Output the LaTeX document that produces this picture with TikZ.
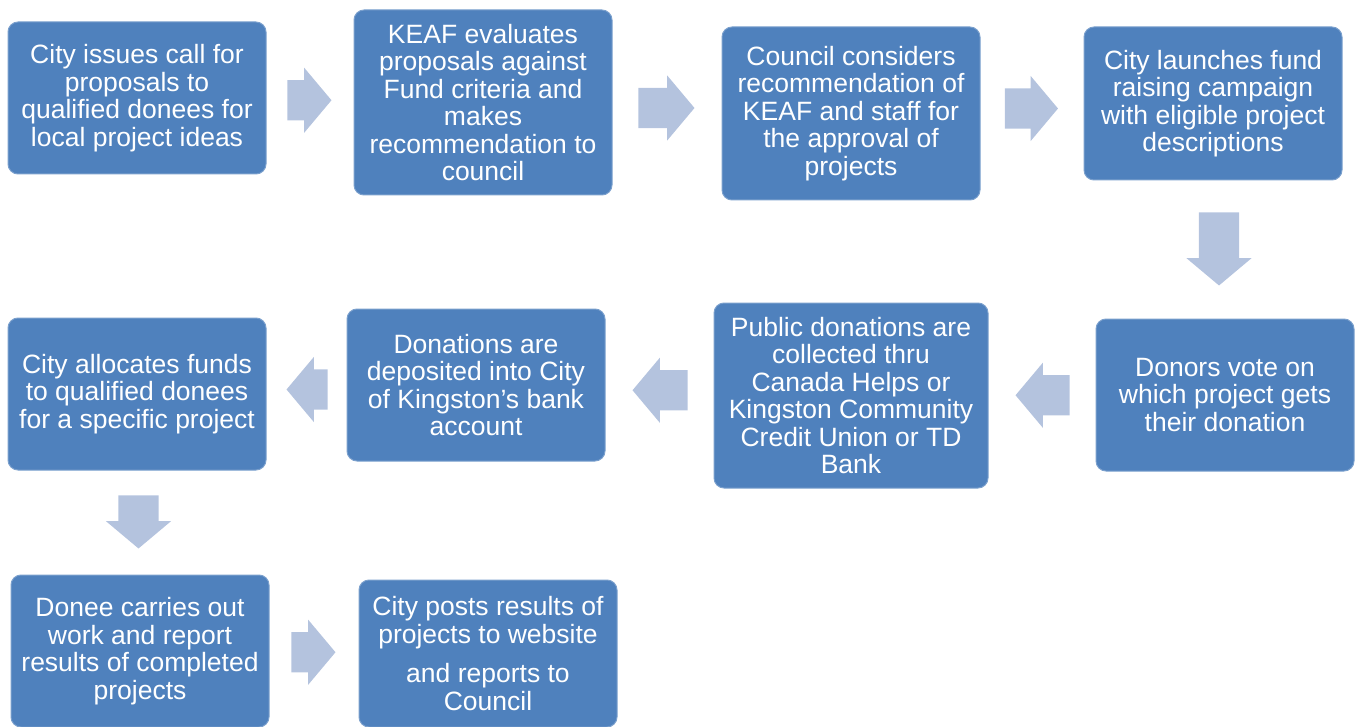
\documentclass[tikz,border=0pt]{standalone}
\usepackage{fontspec}
\setmainfont{Liberation Sans}
\usetikzlibrary{shapes.arrows,calc}
\definecolor{boxblue}{HTML}{4F81BD}
\definecolor{arrblue}{HTML}{B4C3DE}

\begin{document}
\begin{tikzpicture}[x=1pt,y=-1pt,
        stage/.style={rectangle,rounded corners=10pt,fill=boxblue,
            draw=boxblue!75!white,line width=1pt,text=white,align=center,
            minimum width=258pt,minimum height=152pt,inner sep=2pt,
            font=\fontsize{26.5}{27.5}\selectfont},
        flow/.style={single arrow,fill=arrblue,draw=none,
            single arrow head extend=12.5pt,single arrow tip angle=100,
            inner xsep=0pt,inner ysep=20pt,minimum height=#1},
        flow/.default=53pt,
        flowright/.style={flow=#1,xshift=-9pt},
        flowright/.default=53pt,
        flowleft/.style={flow=#1,shape border rotate=180,xshift=9pt},
        flowleft/.default=53pt,
        flowdown/.style={flow=#1,inner xsep=20pt,inner ysep=0pt,
            shape border rotate=270,yshift=9pt},
        flowdown/.default=53pt]
    \useasboundingbox (0,0) rectangle (1356,727);

    % top row
    \node[stage] (call) at (137,98) {City issues call for\\proposals to\\qualified donees for\\local project ideas};
    \node[stage,minimum height=185pt] (keaf) at (483,102.5) {KEAF evaluates\\proposals against\\Fund criteria and\\makes\\recommendation to\\council};
    \node[stage,minimum height=173pt] (council) at (851,113.5) {Council considers\\recommendation of\\KEAF and staff for\\the approval of\\projects};
    \node[stage,minimum height=153pt] (launch) at (1213,103.5) {City launches fund\\raising campaign\\with eligible project\\descriptions};

    % middle row
    \node[stage] (vote) at (1225,395) {Donors vote on\\which project gets\\their donation};
    \node[stage,minimum width=274pt,minimum height=185pt] (collect) at (851,395.5) {Public donations are\\collected thru\\Canada Helps or\\Kingston Community\\Credit Union or TD\\Bank};
    \node[stage] (deposit) at (476,385) {Donations are\\deposited into City\\of Kingston's bank\\account};
    \node[stage] (alloc) at (137,394) {City allocates funds\\to qualified donees\\for a specific project};

    % bottom row
    \node[stage] (work) at (140,651) {Donee carries out\\work and report\\results of completed\\projects};
    \node[stage,minimum height=147pt] (post) at (488,653.5) {City posts results of\\projects to website\\[12pt]and reports to\\Council};

    % block arrows
    \node[flowright=44pt] at ($(call.east)!.5!(keaf.west)$) {};
    \node[flowright=56pt] at ($(keaf.east)!.5!(council.west)$) {};
    \node[flowright] at ($(council.east)!.5!(launch.west)$) {};
    \node[flowdown=73pt] at ($(launch.south)!.5!(vote.north)$) {};
    \node[flowleft=54pt] at ($(vote.west)!.5!(collect.east)$) {};
    \node[flowleft=55pt] at ($(collect.west)!.5!(deposit.east)$) {};
    \node[flowleft=41pt] at ($(deposit.west)!.5!(alloc.east)$) {};
    \node[flowdown] at ($(alloc.south)!.5!(work.north)$) {};
    \node[flowright=44pt] at ($(work.east)!.5!(post.west)$) {};
\end{tikzpicture}
\end{document}
